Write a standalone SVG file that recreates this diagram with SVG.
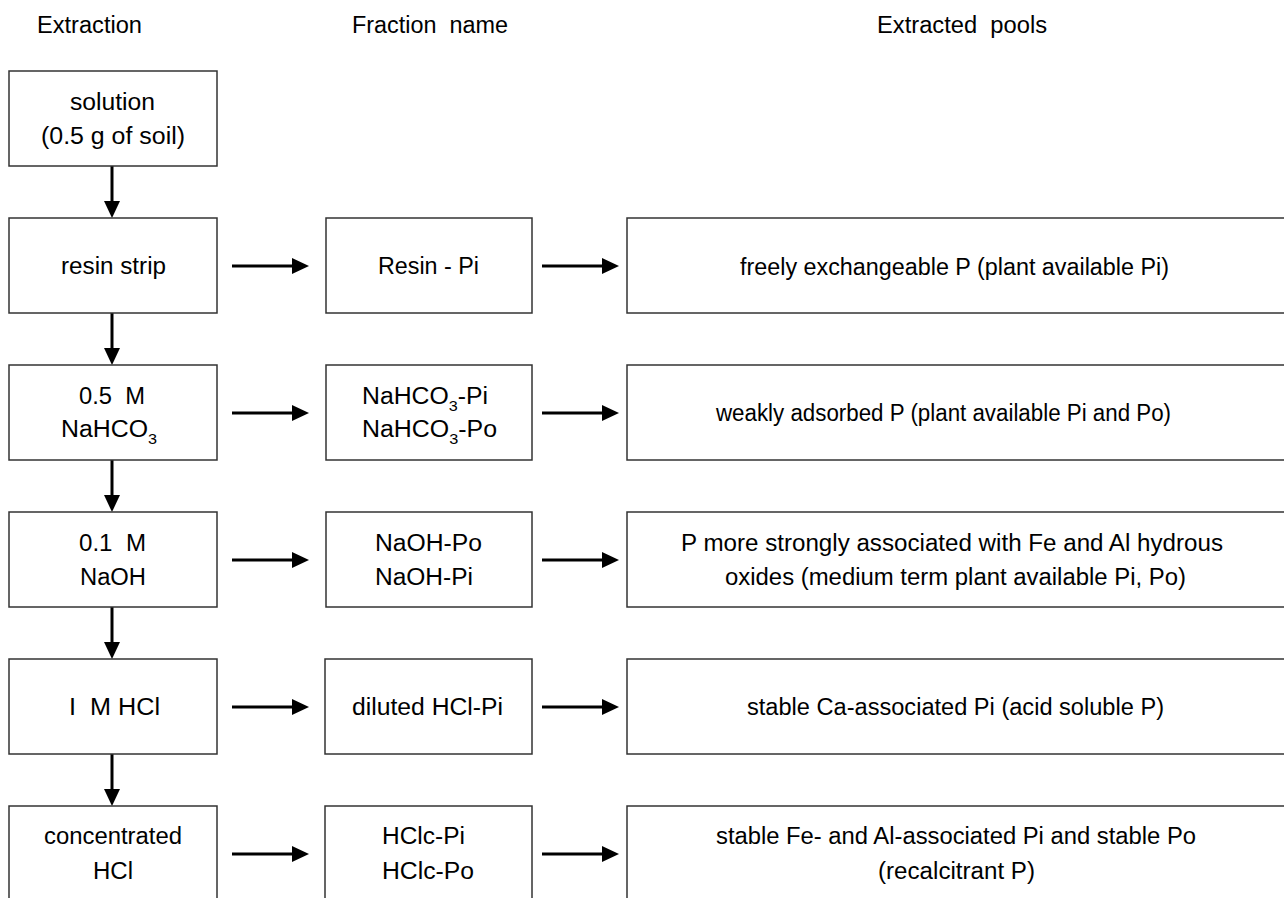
<svg xmlns="http://www.w3.org/2000/svg" width="1284" height="898" viewBox="0 0 1284 898">
  <defs>
    <marker id="head" viewBox="0 0 17 16" refX="8" refY="8" markerWidth="17" markerHeight="16" markerUnits="userSpaceOnUse" orient="auto">
      <polygon points="0,0 17,8 0,16" fill="#000"/>
    </marker>
  </defs>
  <style>
    text { font-family: "Liberation Sans Narrow", "Liberation Sans", Arial, sans-serif; font-size: 23px; fill: #000; white-space: pre; }
    .sub { font-size: 15px; }
    .box { fill: #fff; stroke: #333; stroke-width: 1.5; }
    .arrow { stroke: #000; stroke-width: 3; fill: none; marker-end: url(#head); }
  </style>
  <rect width="1284" height="898" fill="#fff"/>

  <!-- column headings -->
  <g id="headings">
    <text x="37" y="33" textLength="105" lengthAdjust="spacingAndGlyphs">Extraction</text>
    <text x="352" y="33" textLength="156" lengthAdjust="spacingAndGlyphs">Fraction  name</text>
    <text x="877" y="33" textLength="170" lengthAdjust="spacingAndGlyphs">Extracted  pools</text>
  </g>

  <!-- connectors -->
  <g id="connectors">
    <line class="arrow" x1="112" y1="166" x2="112" y2="209"/>
    <line class="arrow" x1="112" y1="313" x2="112" y2="356"/>
    <line class="arrow" x1="112" y1="460" x2="112" y2="503"/>
    <line class="arrow" x1="112" y1="607" x2="112" y2="650"/>
    <line class="arrow" x1="112" y1="754" x2="112" y2="797"/>

    <line class="arrow" x1="232" y1="266" x2="300" y2="266"/>
    <line class="arrow" x1="542" y1="266" x2="610" y2="266"/>
    <line class="arrow" x1="232" y1="413" x2="300" y2="413"/>
    <line class="arrow" x1="542" y1="413" x2="610" y2="413"/>
    <line class="arrow" x1="232" y1="560" x2="300" y2="560"/>
    <line class="arrow" x1="542" y1="560" x2="610" y2="560"/>
    <line class="arrow" x1="232" y1="707" x2="300" y2="707"/>
    <line class="arrow" x1="542" y1="707" x2="610" y2="707"/>
    <line class="arrow" x1="232" y1="854" x2="300" y2="854"/>
    <line class="arrow" x1="542" y1="854" x2="610" y2="854"/>
  </g>

  <!-- extraction steps -->
  <g id="step-solution">
    <rect class="box" x="9" y="71" width="208" height="95"/>
    <text x="70" y="110" textLength="85" lengthAdjust="spacingAndGlyphs">solution</text>
    <text x="41" y="144" textLength="144" lengthAdjust="spacingAndGlyphs">(0.5 g of soil)</text>
  </g>
  <g id="step-resin">
    <rect class="box" x="9" y="218" width="208" height="95"/>
    <text x="61" y="274" textLength="105" lengthAdjust="spacingAndGlyphs">resin strip</text>
  </g>
  <g id="step-nahco3">
    <rect class="box" x="9" y="365" width="208" height="95"/>
    <text x="79" y="404" textLength="66" lengthAdjust="spacingAndGlyphs">0.5  M</text>
    <text x="61" y="437" textLength="96" lengthAdjust="spacingAndGlyphs">NaHCO<tspan class="sub" dy="7">3</tspan></text>
  </g>
  <g id="step-naoh">
    <rect class="box" x="9" y="512" width="208" height="95"/>
    <text x="79" y="551" textLength="67" lengthAdjust="spacingAndGlyphs">0.1  M</text>
    <text x="80" y="585" textLength="66" lengthAdjust="spacingAndGlyphs">NaOH</text>
  </g>
  <g id="step-hcl">
    <rect class="box" x="9" y="659" width="208" height="95"/>
    <text x="69" y="715" textLength="91" lengthAdjust="spacingAndGlyphs">I  M HCl</text>
  </g>
  <g id="step-hclc">
    <rect class="box" x="9" y="806" width="208" height="95"/>
    <text x="44" y="844" textLength="138" lengthAdjust="spacingAndGlyphs">concentrated</text>
    <text x="93" y="879" textLength="40" lengthAdjust="spacingAndGlyphs">HCl</text>
  </g>

  <!-- fraction names -->
  <g id="fraction-resin">
    <rect class="box" x="326" y="218" width="206" height="95"/>
    <text x="378" y="274" textLength="101" lengthAdjust="spacingAndGlyphs">Resin - Pi</text>
  </g>
  <g id="fraction-nahco3">
    <rect class="box" x="326" y="365" width="206" height="95"/>
    <text x="362" y="404" textLength="126" lengthAdjust="spacingAndGlyphs">NaHCO<tspan class="sub" dy="7">3</tspan><tspan dy="-7">-Pi</tspan></text>
    <text x="362" y="437" textLength="135" lengthAdjust="spacingAndGlyphs">NaHCO<tspan class="sub" dy="7">3</tspan><tspan dy="-7">-Po</tspan></text>
  </g>
  <g id="fraction-naoh">
    <rect class="box" x="326" y="512" width="206" height="95"/>
    <text x="375" y="551" textLength="107" lengthAdjust="spacingAndGlyphs">NaOH-Po</text>
    <text x="375" y="585" textLength="98" lengthAdjust="spacingAndGlyphs">NaOH-Pi</text>
  </g>
  <g id="fraction-hcl">
    <rect class="box" x="325" y="659" width="207" height="95"/>
    <text x="352" y="715" textLength="151" lengthAdjust="spacingAndGlyphs">diluted HCl-Pi</text>
  </g>
  <g id="fraction-hclc">
    <rect class="box" x="325" y="806" width="207" height="95"/>
    <text x="382" y="844" textLength="83" lengthAdjust="spacingAndGlyphs">HClc-Pi</text>
    <text x="382" y="879" textLength="92" lengthAdjust="spacingAndGlyphs">HClc-Po</text>
  </g>

  <!-- extracted pools -->
  <g id="pool-resin">
    <rect class="box" x="627" y="218" width="660" height="95"/>
    <text x="740" y="275" textLength="429" lengthAdjust="spacingAndGlyphs">freely exchangeable P (plant available Pi)</text>
  </g>
  <g id="pool-nahco3">
    <rect class="box" x="627" y="365" width="660" height="95"/>
    <text x="716" y="421" textLength="455" lengthAdjust="spacingAndGlyphs">weakly adsorbed P (plant available Pi and Po)</text>
  </g>
  <g id="pool-naoh">
    <rect class="box" x="627" y="512" width="660" height="95"/>
    <text x="681" y="551" textLength="542" lengthAdjust="spacingAndGlyphs">P more strongly associated with Fe and Al hydrous</text>
    <text x="725" y="585" textLength="461" lengthAdjust="spacingAndGlyphs">oxides (medium term plant available Pi, Po)</text>
  </g>
  <g id="pool-hcl">
    <rect class="box" x="627" y="659" width="660" height="95"/>
    <text x="747" y="715" textLength="417" lengthAdjust="spacingAndGlyphs">stable Ca-associated Pi (acid soluble P)</text>
  </g>
  <g id="pool-hclc">
    <rect class="box" x="627" y="806" width="660" height="95"/>
    <text x="716" y="844" textLength="480" lengthAdjust="spacingAndGlyphs">stable Fe- and Al-associated Pi and stable Po</text>
    <text x="878" y="879" textLength="157" lengthAdjust="spacingAndGlyphs">(recalcitrant P)</text>
  </g>
</svg>
